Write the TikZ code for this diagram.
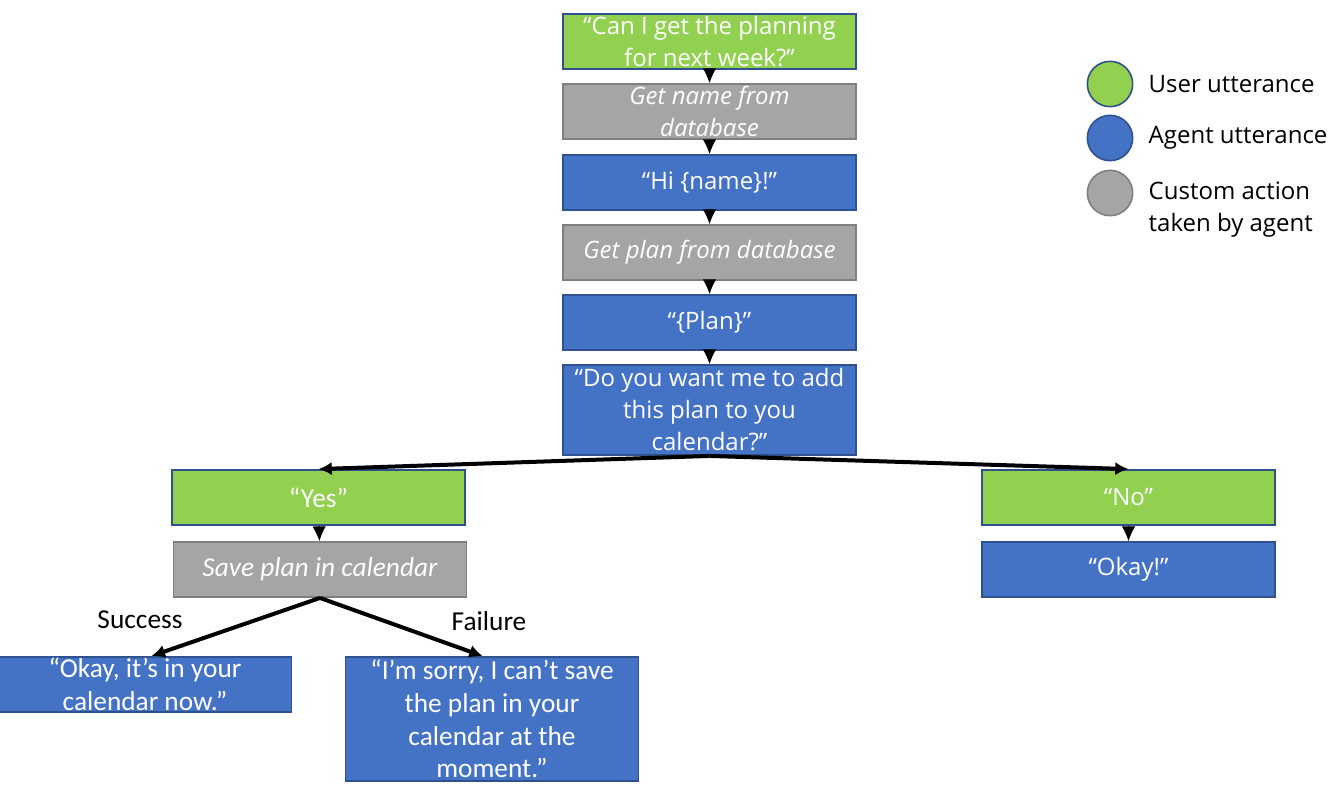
\documentclass[tikz,border=0pt]{standalone}
\usepackage{fontspec}
\setmainfont{Open Sans}
\newfontfamily\calibri{Carlito}
\usetikzlibrary{arrows.meta,positioning}
\definecolor{usergreen}{HTML}{92D050}
\definecolor{agentblue}{HTML}{4472C4}
\definecolor{actiongray}{HTML}{A5A5A5}
\definecolor{edgeblue}{HTML}{2F528F}
\definecolor{edgegray}{HTML}{7F7F7F}

\begin{document}
\begin{tikzpicture}[x=.75pt,y=-.75pt,>=Latex,
  box/.style={draw=edgeblue,line width=1.4pt,minimum width=219.75pt,minimum height=41.25pt,
    inner sep=1pt,text=white,align=center,font=\fontsize{18}{23.5}\selectfont},
  user/.style={box,fill=usergreen},
  agent/.style={box,fill=agentblue},
  action/.style={box,fill=actiongray,draw=edgegray,font=\fontsize{18}{23.5}\selectfont\itshape},
  narrow/.style={font=\fontsize{20.5}{24.5}\selectfont\calibri},
  narrowit/.style={font=\fontsize{20.5}{24.5}\selectfont\calibri\itshape},
  link/.style={-{Latex[length=11pt,width=10pt]},line width=.6pt},
  branch/.style={-{Latex[length=10pt,width=10pt]},line width=3pt},
  dot/.style={circle,minimum size=34pt,inner sep=0pt,line width=1.2pt},
  key/.style={anchor=west,align=left,font=\fontsize{18}{24}\selectfont}]
 \useasboundingbox (0,0) rectangle (1337,792);
 % main column
 \node[user] (ask) at (709.5,41.5) {“Can I get the planning\\for next week?”};
 \node[action] (getname) at (709.5,111.5) {Get name from\\database};
 \node[agent] (hi) at (709.5,182.5) {“Hi \{name\}!”};
 \node[action] (getplan) at (709.5,252.5) {Get plan from database};
 \node[agent] (plan) at (709.5,322.5) {“\{Plan\}”};
 \node[agent,minimum height=67.5pt,font=\fontsize{18}{24}\selectfont] (addq) at (709.5,410) {“Do you want me to add\\this plan to you\\calendar?”};
 % yes branch
 \node[user,narrow] (yes) at (318.5,497.5) {“Yes”};
 \node[action,narrowit] (save) at (320,569.5) {Save plan in calendar};
 \node[agent,narrow] (done) at (145,684.5) {“Okay, it’s in your\\calendar now.”};
 \node[agent,narrow,minimum height=93pt] (sorry) at (492,719) {“I’m sorry, I can’t save\\the plan in your\\calendar at the\\moment.”};
 \node[narrow] (succ) at (140,620) {Success};
 \node[narrow] (fail) at (489,621) {Failure};
 % no branch
 \node[user] (no) at (1128.5,497.5) {“No”};
 \node[agent] (okay) at (1128.5,569.5) {“Okay!”};
 % arrows
 \draw[link] (ask) -- (getname);
 \draw[link] (getname) -- (hi);
 \draw[link] (hi) -- (getplan);
 \draw[link] (getplan) -- (plan);
 \draw[link] (plan) -- (addq);
 \draw[link] (yes) -- (save);
 \draw[link] (no) -- (okay);
 \draw[branch] (addq.south) -- (yes.north);
 \draw[branch] (addq.south) -- (no.north);
 \draw[branch] (save.south) -- ([xshift=5pt]done.north);
 \draw[branch] (save.south) -- ([xshift=-7pt]sorry.north);
 % legend
 \node[dot,fill=usergreen,draw=edgeblue] (kuser) at (1110,84) {};
 \node[dot,fill=agentblue,draw=edgeblue] (kagent) at (1110,138) {};
 \node[dot,fill=actiongray,draw=edgegray] (kaction) at (1110,193) {};
 \node[key] (tuser) at (1144,84) {User utterance};
 \node[key] (tagent) at (1144,138) {Agent utterance};
 \node[key] (taction) at (1144,210) {Custom action\\taken by agent};
\end{tikzpicture}
\end{document}
